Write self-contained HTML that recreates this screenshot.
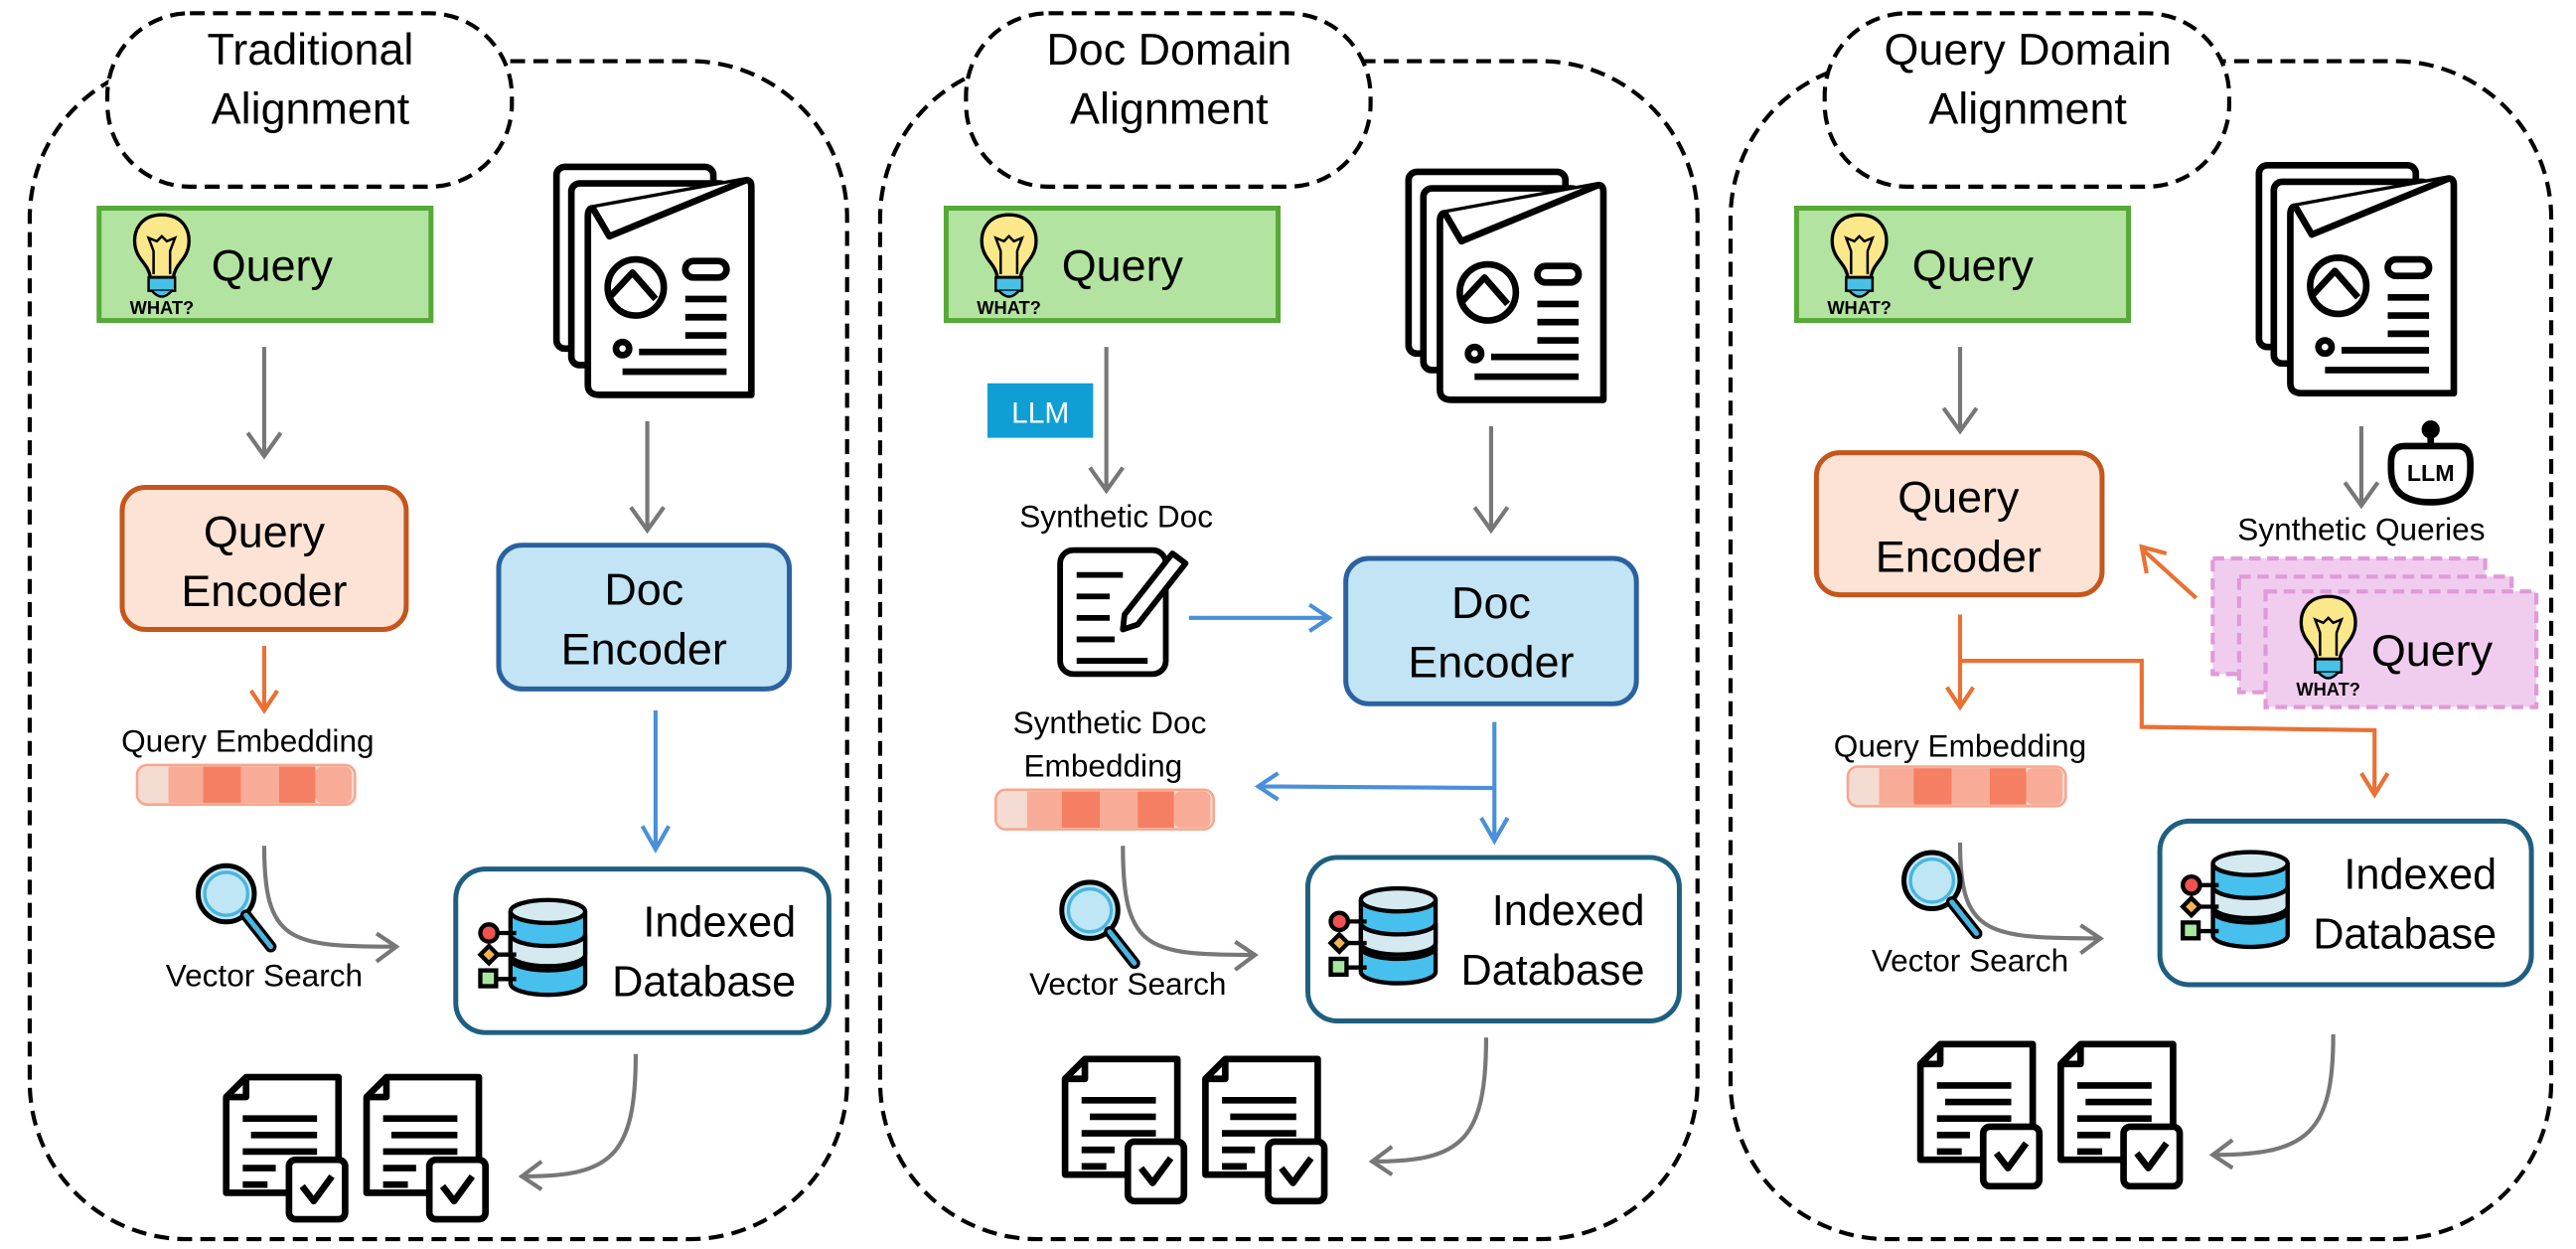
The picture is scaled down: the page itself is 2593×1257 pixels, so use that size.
<!DOCTYPE html>
<html><head><meta charset="utf-8"><style>html,body{margin:0;padding:0;background:#fff}svg{display:block}text{font-family:"Liberation Sans",sans-serif;fill:#000}</style></head><body>
<svg width="2593" height="1257" viewBox="0 0 1560 756" preserveAspectRatio="none" xmlns="http://www.w3.org/2000/svg">
<defs>
<g id="bulb">
<path d="M0,-22 C-13,-22 -18,-12 -16,-2 C-14,6 -8,8 -7,16 L7,16 C8,8 14,6 16,-2 C18,-12 13,-22 0,-22Z" fill="#fbe88a" stroke="#000" stroke-width="2"/>
<path d="M-5,14 L-5,0 L-8,-8 L-3,-6 L0,-9 L3,-6 L8,-8 L5,0 L5,14" fill="none" stroke="#000" stroke-width="1.5"/>
<rect x="-8" y="16" width="16" height="8" fill="#49c1e6" stroke="#000" stroke-width="1.5"/>
<path d="M-6,24 Q0,31 6,24" fill="#49c1e6" stroke="#000" stroke-width="1.5"/>
<text x="0" y="38" font-size="11" font-weight="bold" text-anchor="middle">WHAT?</text>
</g>
<g id="docs" fill="#fff" stroke="#000" stroke-width="4" stroke-linejoin="round">
<rect x="0" y="0" width="95" height="110" rx="5"/>
<rect x="9" y="10" width="95" height="110" rx="5"/>
<path d="M22,25 L115,8 Q118,8 118,12 L118,138 L26,138 Q19,138 19,132 L19,30 Q19,25 22,25Z"/>
<path d="M22,25 L32,42 L115,8" />
<circle cx="48" cy="73" r="17"/>
<path d="M33,78 L46,64 L60,80" fill="none"/>
<rect x="78" y="57" width="25" height="10" rx="5"/>
<path d="M78,80 H103 M78,91 H103 M78,102 H103 M50,112 H103 M40,124 H103" fill="none"/>
<circle cx="40" cy="110" r="4"/>
</g>
<g id="mag">
<circle cx="0" cy="0" r="17" fill="#bfe6f5" stroke="#000" stroke-width="3"/>
<circle cx="0" cy="0" r="13" fill="none" stroke="#49b5e0" stroke-width="2"/>
<path d="M12,13 L27,32" stroke="#000" stroke-width="7" stroke-linecap="round"/>
<path d="M12,13 L27,32" stroke="#49b5e0" stroke-width="3" stroke-linecap="round"/>
</g>
<g id="db0" stroke="#000" stroke-width="3">
<path d="M22,10 V60 A26,8 0 0 0 74,60 V10" fill="#47c0ee"/>
<ellipse cx="48" cy="10" rx="26" ry="8" fill="#d4e9f0"/>
<path d="M22,26 A26,8 0 0 0 74,26 V40 A26,8 0 0 1 22,40Z" fill="#d4e9f0"/>
<path d="M22,43 A26,8 0 0 0 74,43" fill="none"/>
<circle cx="7" cy="25" r="6" fill="#ef5350"/><path d="M13,25 H26"/>
<path d="M7,34 L13,40 L7,46 L1,40Z" fill="#f6b450"/><path d="M13,40 H26"/>
<rect x="1" y="51" width="11" height="11" fill="#a8e6a0"/><path d="M12,57 H26"/>
</g>
<g id="db"><use href="#db0" transform="scale(0.87)"/></g>
<g id="rdoc" fill="#fff" stroke="#000" stroke-width="4" stroke-linejoin="round">
<path d="M12,0 H68 V70 H0 V12Z"/>
<path d="M12,0 V12 H0" fill="none"/>
<path d="M10,25 H55 M15,35 H55 M10,45 H55 M10,55 H30 M10,65 H25" fill="none"/>
<rect x="38" y="50" width="34" height="36" rx="4"/>
<path d="M46,66 L53,75 L64,60" fill="none" stroke-width="4"/>
</g>
<g id="emb">
<rect x="0" y="0" width="132" height="24" rx="6" fill="#f4dcd3" stroke="#f8a58b" stroke-width="1.5"/>
<rect x="19" y="1" width="21" height="22" fill="#f8ab97"/>
<rect x="40" y="1" width="23" height="22" fill="#f57f62"/>
<rect x="63" y="1" width="23" height="22" fill="#f8ab97"/>
<rect x="86" y="1" width="22" height="22" fill="#f57f62"/>
<rect x="108" y="1" width="22" height="22" fill="#f8ab97" rx="4"/>
</g>
</defs>

<g fill="none" stroke="#000" stroke-width="2.5" stroke-dasharray="9,5">
<rect x="18" y="37" width="495" height="713" rx="95"/>
<rect x="533" y="37" width="495" height="713" rx="95"/>
<rect x="1048" y="37" width="497" height="713" rx="95"/>
</g>
<g fill="#fff" stroke="#000" stroke-width="2.5" stroke-dasharray="9,5">
<rect x="65" y="8" width="245" height="105" rx="50"/>
<rect x="585" y="8" width="245" height="105" rx="50"/>
<rect x="1105" y="8" width="245" height="105" rx="50"/>
</g>
<g font-size="27" text-anchor="middle">
<text x="188" y="39">Traditional</text><text x="188" y="75">Alignment</text>
<text x="708" y="39">Doc Domain</text><text x="708" y="75">Alignment</text>
<text x="1228" y="39">Query Domain</text><text x="1228" y="75">Alignment</text>
</g>

<g fill="#b3e3a0" stroke="#56a936" stroke-width="3">
<rect x="60" y="126" width="201" height="68"/>
<rect x="573" y="126" width="201" height="68"/>
<rect x="1088" y="126" width="201" height="68"/>
</g>
<use href="#bulb" x="98" y="152"/><use href="#bulb" x="611" y="152"/><use href="#bulb" x="1126" y="152"/>
<g font-size="27"><text x="128" y="170">Query</text><text x="643" y="170">Query</text><text x="1158" y="170">Query</text></g>

<use href="#docs" x="337" y="101"/><use href="#docs" x="853" y="104"/><use href="#docs" x="1368" y="100"/>

<rect x="74" y="295" width="172" height="86" rx="14" fill="#fce3d6" stroke="#c5561c" stroke-width="3"/>
<rect x="1100" y="274" width="173" height="86" rx="14" fill="#fce3d6" stroke="#c5561c" stroke-width="3"/>
<rect x="302" y="330" width="176" height="87" rx="14" fill="#c2e4f4" stroke="#2a62a0" stroke-width="3"/>
<rect x="815" y="338" width="176" height="88" rx="14" fill="#c2e4f4" stroke="#2a62a0" stroke-width="3"/>
<g font-size="27" text-anchor="middle">
<text x="160" y="331">Query</text><text x="160" y="367">Encoder</text>
<text x="1186" y="310">Query</text><text x="1186" y="346">Encoder</text>
<text x="390" y="366">Doc</text><text x="390" y="402">Encoder</text>
<text x="903" y="374">Doc</text><text x="903" y="410">Encoder</text>
</g>

<g stroke="#777" stroke-width="2.5" fill="none">
<path d="M160,210 V275 M150,262 L160,276 L170,262"/>
<path d="M392,255 V320 M382,307 L392,321 L402,307"/>
<path d="M670,210 V296 M660,283 L670,297 L680,283"/>
<path d="M903,258 V320 M893,307 L903,321 L913,307"/>
<path d="M1187,210 V260 M1177,247 L1187,261 L1197,247"/>
<path d="M1430,258 V305 M1420,292 L1430,306 L1440,292"/>
<path d="M160,512 C160,570 175,573 238,573 M228,565 L240,573 L228,582"/>
<path d="M680,512 C680,575 695,578 758,578 M748,570 L760,578 L748,587"/>
<path d="M1187,510 C1187,565 1202,568 1270,568 M1260,560 L1272,568 L1260,577"/>
<path d="M385,638 C385,700 370,712 318,712 M328,703 L316,712 L328,720"/>
<path d="M900,628 C900,690 885,703 833,703 M843,694 L831,703 L843,711"/>
<path d="M1413,626 C1413,685 1398,699 1342,699 M1352,690 L1340,699 L1352,707"/>
</g>

<g stroke="#ea7033" stroke-width="2.5" fill="none">
<path d="M160,391 V428 M152,418 L160,430 L168,418"/>
<path d="M1187,372 V427 M1179,416 L1187,428 L1195,416"/>
<path d="M1187,400 H1297 V440 L1438,442 V480 M1430,468 L1438,481 L1446,468"/>
<path d="M1330,362 L1298,333 M1300,347 L1297,331 L1312,335"/>
</g>

<g stroke="#4a90d9" stroke-width="2.5" fill="none">
<path d="M397,430 V513 M389,500 L397,514 L405,500"/>
<path d="M720,374 H804 M793,366 L805,374 L793,382"/>
<path d="M905,437 V508 M897,495 L905,509 L913,495"/>
<path d="M905,477 L763,476 M774,468 L762,476 L774,484"/>
</g>

<g font-size="19" text-anchor="middle">
<text x="150" y="455">Query Embedding</text>
<text x="672" y="444">Synthetic Doc</text><text x="668" y="470">Embedding</text>
<text x="1187" y="458">Query Embedding</text>
<text x="160" y="597">Vector Search</text>
<text x="683" y="602">Vector Search</text>
<text x="1193" y="588">Vector Search</text>
<text x="676" y="319">Synthetic Doc</text>
<text x="1430" y="327">Synthetic Queries</text>
</g>
<use href="#emb" x="83" y="463"/><use href="#emb" x="603" y="478"/><use href="#emb" x="1119" y="464"/>
<use href="#mag" x="137" y="541"/><use href="#mag" x="660" y="551"/><use href="#mag" x="1170" y="533"/>

<g fill="#fff" stroke="#1e5f80" stroke-width="3">
<rect x="276" y="526" width="226" height="99" rx="18"/>
<rect x="792" y="519" width="225" height="99" rx="18"/>
<rect x="1308" y="497" width="225" height="99" rx="18"/>
</g>
<use href="#db" x="290" y="543"/><use href="#db" x="805" y="536"/><use href="#db" x="1321" y="514"/>
<g font-size="26" text-anchor="end">
<text x="482" y="567">Indexed</text><text x="482" y="603">Database</text>
<text x="996" y="560">Indexed</text><text x="996" y="596">Database</text>
<text x="1512" y="538">Indexed</text><text x="1512" y="574">Database</text>
</g>

<use href="#rdoc" x="137" y="652"/><use href="#rdoc" x="222" y="652"/>
<use href="#rdoc" x="645" y="641"/><use href="#rdoc" x="730" y="641"/>
<use href="#rdoc" x="1163" y="632"/><use href="#rdoc" x="1248" y="632"/>

<rect x="598" y="232" width="64" height="33" fill="#0f9fd5"/>
<text x="630" y="256" font-size="18" text-anchor="middle" style="fill:#fff">LLM</text>

<g fill="#fff" stroke="#000" stroke-width="3.5" stroke-linejoin="round">
<rect x="642" y="333" width="64" height="75" rx="8"/>
<path d="M652,348 H680 M652,361 H672 M652,374 H672 M652,387 H675 M652,400 H695" fill="none"/>
<path d="M710,335 L718,341 L689,378 L680,381 L681,372Z"/>
</g>

<g stroke="#000" stroke-width="4" fill="#fff">
<path d="M1472,262 V270"/><circle cx="1472" cy="260" r="3.5" fill="#000"/>
<path d="M1456,270 H1488 Q1496,270 1496,280 V284 Q1496,304 1472,304 Q1448,304 1448,284 V280 Q1448,270 1456,270Z"/>
</g>
<text x="1472" y="291" font-size="14" font-weight="bold" text-anchor="middle">LLM</text>

<g fill="#f0cdee" stroke="#e09ad8" stroke-width="2.5" stroke-dasharray="7,4">
<rect x="1340" y="338" width="165" height="70"/>
<rect x="1356" y="349" width="165" height="70"/>
<rect x="1372" y="358" width="164" height="70"/>
</g>
<use href="#bulb" x="1410" y="383"/>
<text x="1436" y="403" font-size="27">Query</text>
</svg>
</body></html>
